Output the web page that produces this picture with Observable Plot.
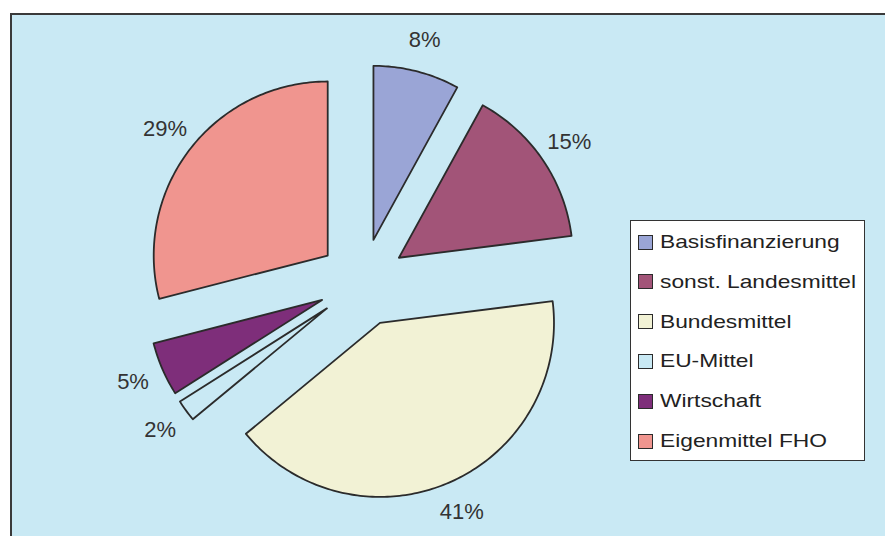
<!DOCTYPE html>
<html>
<head>
<meta charset="utf-8">
<script src="https://cdn.jsdelivr.net/npm/d3@7"></script>
<script src="https://cdn.jsdelivr.net/npm/@observablehq/plot@0.6"></script>
<style>
  html, body { margin: 0; padding: 0; background: #fff; }
  #wrap { position: relative; width: 885px; height: 536px; overflow: hidden; background: #fff; font-family: "Liberation Sans", Arial, sans-serif; }
  #panel { position: absolute; left: 10px; top: 13px; width: 900px; height: 560px; background: #c9e9f4; border: 2px solid #3a3a3a; box-sizing: border-box; }
  #chart { position: absolute; left: 0; top: 0; }
  #legend { position: absolute; left: 630px; top: 220px; width: 235px; height: 241px; background: #fff; border: 1px solid #333; box-sizing: border-box; }
  .item { position: absolute; left: 7px; height: 20px; display: flex; align-items: center; }
  .sw { width: 13px; height: 13px; border: 1.5px solid #2b2b2b; box-sizing: content-box; margin-right: 7px; }
  .lbl { font-size: 18.5px; color: #222; transform: scaleX(1.23); transform-origin: left center; white-space: nowrap; }
</style>
</head>
<body>
<div id="wrap">
  <div id="panel"></div>
  <div id="chart"></div>
  <div id="legend"></div>
</div>
<script>
const categories = ["Basisfinanzierung", "sonst. Landesmittel", "Bundesmittel", "EU-Mittel", "Wirtschaft", "Eigenmittel FHO"];
const shares = [8, 15, 41, 2, 5, 29];
const shareLabels = ["8%", "15%", "41%", "2%", "5%", "29%"];
const colors = ["#9aa5d6", "#a25478", "#f2f2d5", "#c9e9f4", "#7e2e7a", "#f0958f"];

// pie geometry (unit radius), exploded slices
const EXPLODE = 0.253, LABEL_R = 1.437;
const arcs = d3.pie().sort(null).value(d => d)(shares);
const slicePts = [];
const labelPts = [];
arcs.forEach((a, i) => {
  const mid = (a.startAngle + a.endAngle) / 2;
  const ox = EXPLODE * Math.sin(mid), oy = EXPLODE * Math.cos(mid);
  const name = categories[i];
  slicePts.push({name, x: ox, y: oy});
  const n = Math.max(2, Math.ceil((a.endAngle - a.startAngle) / (Math.PI / 180)));
  for (let k = 0; k <= n; k++) {
    const t = a.startAngle + (a.endAngle - a.startAngle) * k / n;
    slicePts.push({name, x: ox + Math.sin(t), y: oy + Math.cos(t)});
  }
  slicePts.push({name, x: ox, y: oy});
  labelPts.push({text: shareLabels[i], x: LABEL_R * Math.sin(mid), y: LABEL_R * Math.cos(mid)});
});

const R = 174, CX = 362, CY = 282, W = 885, H = 536;
const chart = Plot.plot({
  width: W, height: H,
  margin: 0,
  style: {background: "transparent", fontFamily: "'Liberation Sans', Arial, sans-serif"},
  x: {domain: [-CX / R, (W - CX) / R], axis: null},
  y: {domain: [-(H - CY) / R, CY / R], axis: null},
  color: {domain: categories, range: colors},
  marks: [
    Plot.line(slicePts, {x: "x", y: "y", z: "name", fill: "name", stroke: "#2b2b2b", strokeWidth: 1.8, strokeLinejoin: "round"}),
    Plot.text(labelPts, {x: "x", y: "y", text: "text", fontSize: 22, fill: "#333"})
  ]
});
document.getElementById("chart").appendChild(chart);

const legend = document.getElementById("legend");
categories.forEach((c, i) => {
  const it = document.createElement("div");
  it.className = "item";
  it.style.top = (11 + i * 39.8) + "px";
  const sw = document.createElement("div");
  sw.className = "sw";
  sw.style.background = colors[i];
  const lb = document.createElement("span");
  lb.className = "lbl";
  lb.textContent = c;
  it.appendChild(sw); it.appendChild(lb);
  legend.appendChild(it);
});
</script>
</body>
</html>
